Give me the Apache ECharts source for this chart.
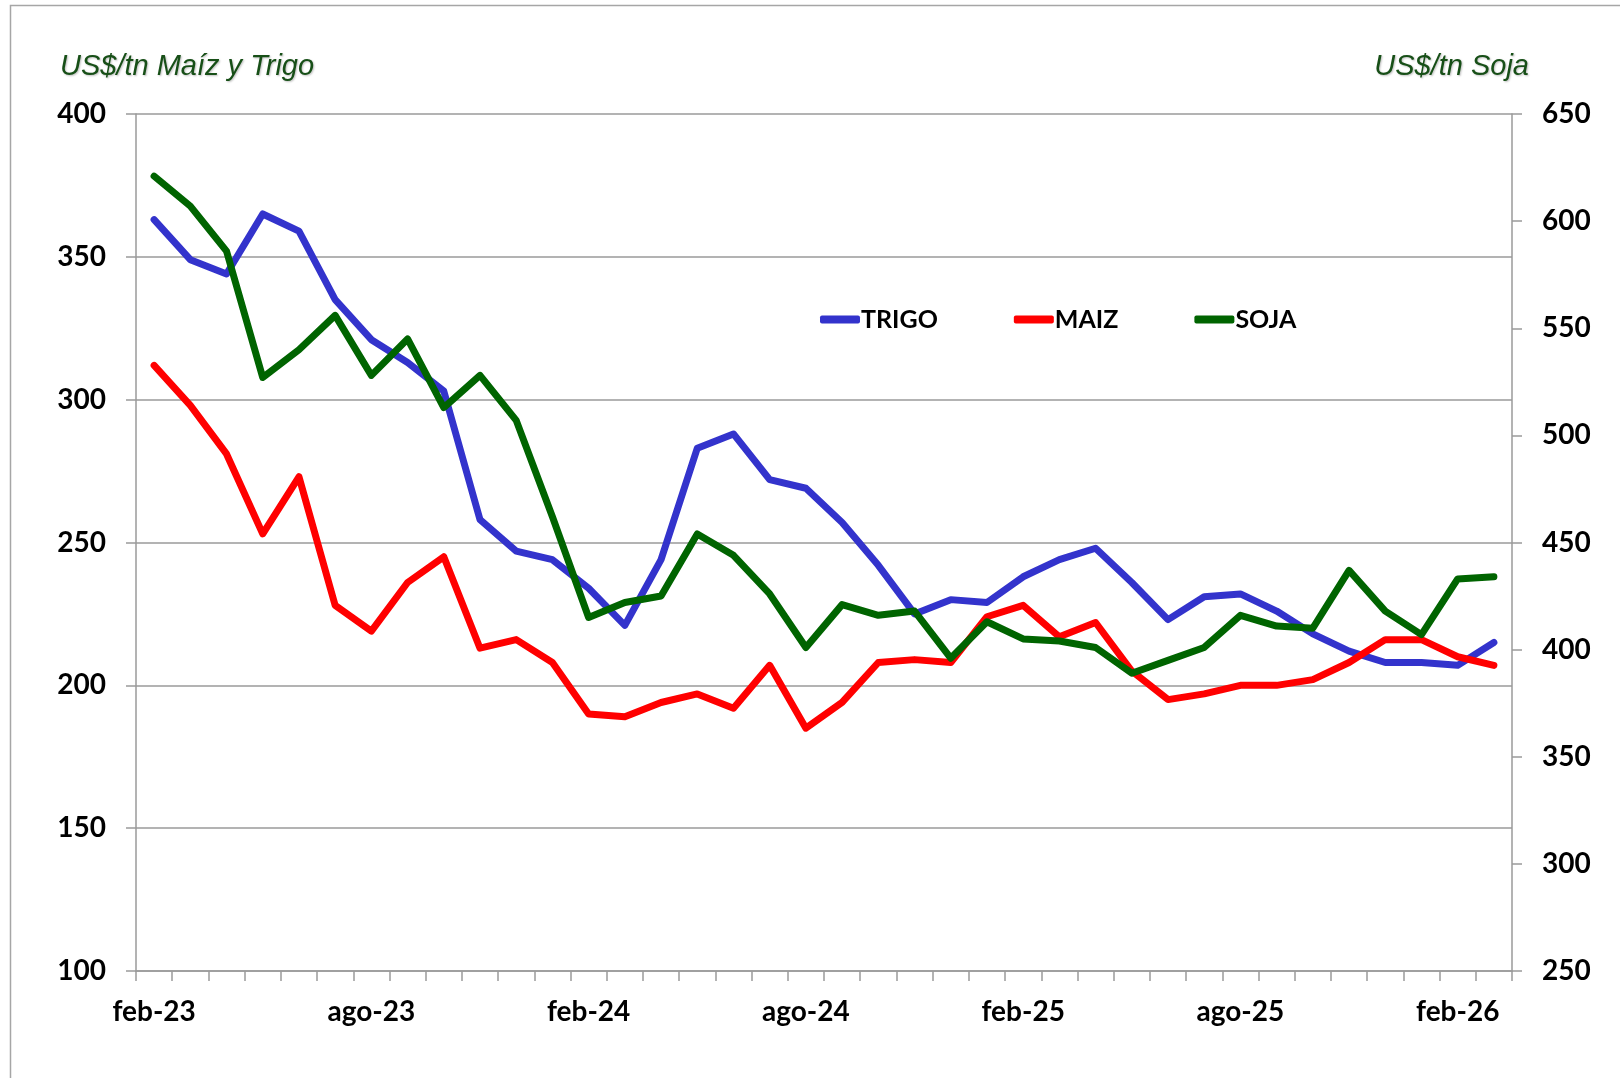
<!DOCTYPE html>
<html lang="es">
<head>
    <meta charset="UTF-8">
    <title>Precios Trigo, Maiz y Soja</title>
    <script src="https://cdn.jsdelivr.net/npm/echarts@6/dist/echarts.min.js"></script>
</head>
<body style="height: 100%; margin: 0; background: #fff">
<div id="chart_main" style="width: 1620px; height: 1078px"></div>

<script>
    // meses feb-23 .. mar-26
    let meses = ['feb-23','mar-23','abr-23','may-23','jun-23','jul-23','ago-23','sep-23','oct-23','nov-23','dic-23','ene-24',
        'feb-24','mar-24','abr-24','may-24','jun-24','jul-24','ago-24','sep-24','oct-24','nov-24','dic-24','ene-25',
        'feb-25','mar-25','abr-25','may-25','jun-25','jul-25','ago-25','sep-25','oct-25','nov-25','dic-25','ene-26',
        'feb-26','mar-26'];

    let trigo = [363,349,344,365,359,335,321,313,303,258,247,244,
        234,221,244,283,288,272,269,257,242,225,230,229,
        238,244,248,236,223,231,232,226,218,212,208,208,
        207,215];

    let maiz = [312,298,281,253,273,228,219,236,245,213,216,208,
        190,189,194,197,192,207,185,194,208,209,208,224,
        228,217,222,205,195,197,200,200,202,208,216,216,
        210,207];

    let soja = [621,607,586,527,540,556,528,545,513,528,507,462,
        415,422,425,454,444,426,401,421,416,418,396,413,
        405,404,401,389,395,401,416,411,410,437,418,407,
        433,434];

    let nombres = ['TRIGO', 'MAIZ', 'SOJA'];
    let colores = ['#3333cc', '#ff0000', '#006400'];

    let fontEjes = 'Lato';
    let grisEje = '#9a9a9a';

    let dom = document.getElementById('chart_main');
    let myChart = echarts.init(dom);

    function serie(i, data, eje) {
        return {
            name: nombres[i],
            type: 'line',
            yAxisIndex: eje,
            data: data,
            symbol: 'none',
            lineStyle: {width: 7, color: colores[i], cap: 'round', join: 'round'},
            itemStyle: {color: colores[i]},
            z: 3 + i
        };
    }

    let option = {
        animation: false,
        backgroundColor: '#ffffff',
        grid: {left: 136, right: 108, top: 114, bottom: 107, outerBoundsMode: 'none'},
        legend: {
            data: nombres,
            left: 815,
            top: 302,
            icon: 'roundRect',
            itemWidth: 40,
            itemHeight: 8,
            itemGap: 76,
            textStyle: {fontFamily: fontEjes, fontWeight: 'bold', fontSize: 25, color: '#000', padding: [0, 0, 0, -4]}
        },
        xAxis: {
            type: 'category',
            data: meses,
            boundaryGap: true,
            axisLine: {lineStyle: {color: grisEje, width: 1.5}},
            axisTick: {show: true, interval: 0, length: 10, lineStyle: {color: grisEje, width: 1.5}},
            axisLabel: {
                interval: 5,
                margin: 27,
                fontFamily: fontEjes,
                fontWeight: 'bold',
                fontSize: 28,
                color: '#000'
            },
            splitLine: {show: false}
        },
        yAxis: [
            {
                type: 'value',
                position: 'left',
                min: 100,
                max: 400,
                interval: 50,
                axisLine: {show: true, lineStyle: {color: grisEje, width: 1.5}},
                axisTick: {show: true, length: 10, lineStyle: {color: grisEje, width: 1.5}},
                axisLabel: {margin: 30, fontFamily: fontEjes, fontWeight: 'bold', fontSize: 28, color: '#000'},
                splitLine: {show: true, lineStyle: {color: grisEje, width: 1.5}}
            },
            {
                type: 'value',
                position: 'right',
                min: 250,
                max: 650,
                interval: 50,
                axisLine: {show: true, lineStyle: {color: grisEje, width: 1.5}},
                axisTick: {show: true, length: 10, lineStyle: {color: grisEje, width: 1.5}},
                axisLabel: {margin: 30, fontFamily: fontEjes, fontWeight: 'bold', fontSize: 28, color: '#000'},
                splitLine: {show: false}
            }
        ],
        graphic: [
            {
                type: 'rect',
                silent: true,
                shape: {x: 10.5, y: 5.5, width: 1700, height: 1200},
                style: {fill: 'none', stroke: '#a6a6a6', lineWidth: 1.5}
            },
            {
                type: 'text',
                left: 60,
                top: 52,
                style: {
                    text: 'US$/tn Maíz y Trigo',
                    font: 'italic 29px "Liberation Sans", Arial, sans-serif',
                    fill: '#174f17',
                    textShadowColor: 'rgba(0,0,0,0.25)',
                    textShadowBlur: 2,
                    textShadowOffsetX: 1,
                    textShadowOffsetY: 1
                }
            },
            {
                type: 'text',
                right: 91,
                top: 52,
                style: {
                    text: 'US$/tn Soja',
                    font: 'italic 29px "Liberation Sans", Arial, sans-serif',
                    fill: '#174f17',
                    textShadowColor: 'rgba(0,0,0,0.25)',
                    textShadowBlur: 2,
                    textShadowOffsetX: 1,
                    textShadowOffsetY: 1
                }
            }
        ],
        series: [
            serie(0, trigo, 0),
            serie(1, maiz, 0),
            serie(2, soja, 1)
        ]
    };

    if (option && typeof option === "object") {
        myChart.setOption(option, true);
    }
</script>
</body>
</html>
